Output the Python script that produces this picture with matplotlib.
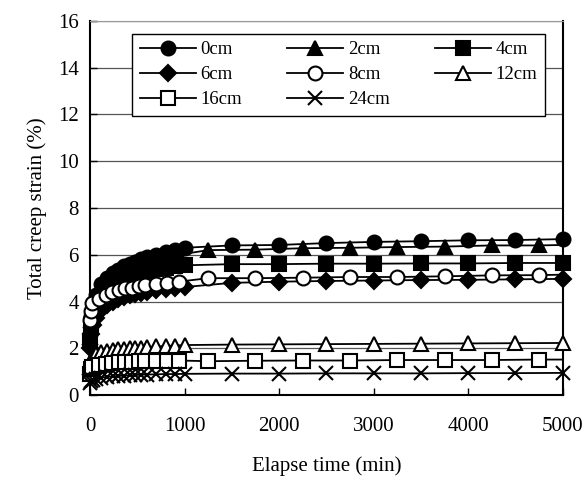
import matplotlib
matplotlib.use("Agg")
import matplotlib.pyplot as plt

plt.rcParams['font.family'] = ['Liberation Serif', 'DejaVu Serif']

# tiempos de medicion (min)
t_a = [0, 10, 30, 60, 120, 180, 240, 300, 360, 420, 480, 540, 600, 700, 800, 900, 1000,
       1500, 2000, 2500, 3000, 3500, 4000, 4500, 5000]
t_b = [0, 10, 25, 95, 165, 235, 305, 375, 445, 515, 585, 695, 815, 940,
       1250, 1750, 2250, 2750, 3250, 3750, 4250, 4750, 5000]

# deformacion total (%)
s_0cm = [2.6, 3.4, 3.9, 4.3, 4.75, 5.0, 5.2, 5.35, 5.5, 5.6, 5.7, 5.8, 5.9, 6.0, 6.1, 6.2, 6.3,
         6.4, 6.42, 6.5, 6.55, 6.58, 6.62, 6.63, 6.67]
s_2cm = [2.5, 3.2, 3.7, 4.3, 4.65, 4.9, 5.1, 5.25, 5.4, 5.5, 5.6, 5.75, 5.9, 6.0,
         6.2, 6.22, 6.28, 6.3, 6.33, 6.35, 6.4, 6.4, 6.42]
s_4cm = [2.3, 3.0, 3.5, 3.8, 4.2, 4.45, 4.65, 4.8, 4.95, 5.05, 5.15, 5.2, 5.3, 5.4, 5.45, 5.5, 5.55,
         5.6, 5.6, 5.62, 5.62, 5.63, 5.63, 5.65, 5.65]
s_6cm = [2.0, 2.6, 3.0, 3.3, 3.65, 3.85, 4.0, 4.1, 4.2, 4.28, 4.33, 4.38, 4.42, 4.48, 4.53, 4.58, 4.62,
         4.8, 4.85, 4.88, 4.9, 4.92, 4.93, 4.95, 4.97]
s_8cm = [3.2, 3.6, 3.92, 4.13, 4.28, 4.39, 4.49, 4.56, 4.6, 4.68, 4.7, 4.74, 4.78, 4.85,
         5.0, 5.0, 5.02, 5.05, 5.05, 5.08, 5.12, 5.13, 5.15]
s_12cm = [1.2, 1.5, 1.65, 1.75, 1.85, 1.9, 1.93, 1.96, 1.98, 2.0, 2.02, 2.03, 2.05, 2.08, 2.1, 2.12, 2.14,
          2.16, 2.17, 2.18, 2.19, 2.2, 2.21, 2.22, 2.23]
s_16cm = [0.9, 1.1, 1.2, 1.3, 1.35, 1.38, 1.4, 1.42, 1.43, 1.44, 1.45, 1.46, 1.47, 1.48,
          1.45, 1.47, 1.48, 1.48, 1.5, 1.5, 1.5, 1.52, 1.52]
s_24cm = [0.5, 0.6, 0.65, 0.7, 0.75, 0.78, 0.8, 0.82, 0.83, 0.85, 0.86, 0.87, 0.88, 0.89, 0.9, 0.9, 0.91,
          0.92, 0.92, 0.93, 0.93, 0.93, 0.94, 0.94, 0.95]

labels = ['0cm', '2cm', '4cm', '6cm', '8cm', '12cm', '16cm', '24cm']

fig = plt.figure(figsize=(5.88, 4.86), dpi=100)
ax = fig.add_axes([0.153, 0.187, 0.804, 0.770])

# (tiempos, valores, marcador, tamaño, relleno)
series = [
    (t_a, s_0cm, 'o', 10, 'black'),
    (t_b, s_2cm, '^', 10, 'black'),
    (t_a, s_4cm, 's', 9.5, 'black'),
    (t_a, s_6cm, 'D', 8, 'black'),
    (t_b, s_8cm, 'o', 10, 'white'),
    (t_a, s_12cm, '^', 10, 'white'),
    (t_b, s_16cm, 's', 9.5, 'white'),
    (t_a, s_24cm, 'x', 10, 'black'),
]

lineas = []
for (t, s, m, ms, fc), lab in zip(series, labels):
    mk = slice(0, len(t) - 1) if t is t_b else None
    ln, = ax.plot(t, s, color='black', lw=1.3, marker=m, ms=ms, mfc=fc, mec='black',
                  mew=1.5, markevery=mk, label=lab, clip_on=False, zorder=3)
    lineas.append(ln)

ax.set_xlim(0, 5000)
ax.set_ylim(0, 16)
ax.set_xticks(range(0, 5001, 1000))
ax.set_yticks(range(0, 17, 2))
ax.yaxis.grid(True, color='#555555', lw=0.9)
ax.set_axisbelow(True)
ax.tick_params(direction='in', length=5, width=1, labelsize=15, pad=8)
ax.tick_params(axis='x', pad=16)
for sp in ['left', 'bottom', 'right']:
    ax.spines[sp].set_linewidth(1.5)
ax.spines['top'].set_color('#999999')

ax.set_xlabel('Elapse time (min)', fontsize=15, labelpad=14)
ax.set_ylabel('Total creep strain (%)', fontsize=15, labelpad=8)

# orden por filas en la leyenda
orden = [0, 3, 6, 1, 4, 7, 2, 5]
leg = ax.legend([lineas[i] for i in orden], [labels[i] for i in orden],
                ncol=3, loc='upper left', bbox_to_anchor=(0.089, 0.966), fontsize=13.5,
                frameon=True, fancybox=False, edgecolor='black', framealpha=1,
                handlelength=3.0, columnspacing=2.4, handletextpad=0.25,
                labelspacing=0.42, borderpad=0.4, borderaxespad=0)
leg.get_frame().set_linewidth(1.0)

fig.savefig('out.png', dpi=100)
